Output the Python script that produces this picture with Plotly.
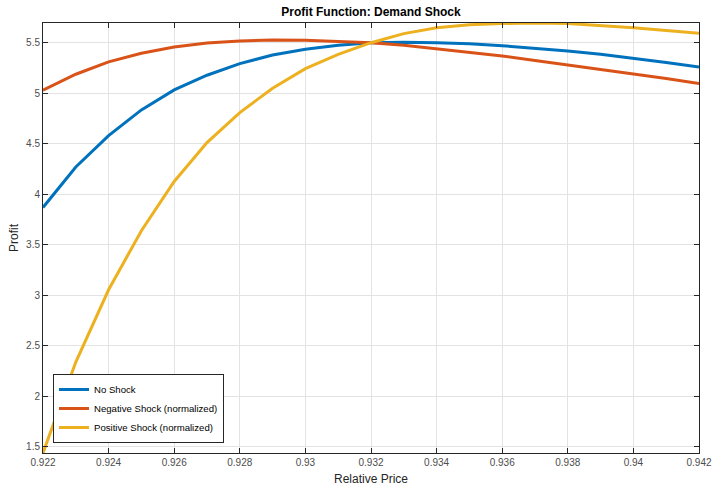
import plotly.graph_objects as go

price = [0.922, 0.923, 0.924, 0.925, 0.926, 0.927, 0.928, 0.929, 0.930, 0.931, 0.932,
         0.933, 0.934, 0.935, 0.936, 0.937, 0.938, 0.939, 0.940, 0.941, 0.942]

no_shock = [3.87, 4.27, 4.58, 4.835, 5.033, 5.178, 5.293, 5.378, 5.435, 5.474, 5.50,
            5.505, 5.50, 5.49, 5.47, 5.445, 5.418, 5.385, 5.346, 5.305, 5.26]

neg_shock = [5.03, 5.188, 5.31, 5.395, 5.458, 5.497, 5.517, 5.527, 5.524, 5.513, 5.50,
             5.475, 5.44, 5.405, 5.368, 5.325, 5.28, 5.237, 5.194, 5.145, 5.095]

pos_shock = [1.44, 2.34, 3.055, 3.64, 4.127, 4.512, 4.809, 5.05, 5.243, 5.385, 5.50,
             5.59, 5.648, 5.678, 5.69, 5.695, 5.69, 5.672, 5.648, 5.622, 5.593]

names = ["No Shock", "Negative Shock (normalized)", "Positive Shock (normalized)"]
colors = ["#0072BD", "#D95319", "#EDB120"]

x_ticks = [0.922, 0.924, 0.926, 0.928, 0.930, 0.932, 0.934, 0.936, 0.938, 0.940, 0.942]
x_tick_labels = ["0.922", "0.924", "0.926", "0.928", "0.93", "0.932", "0.934", "0.936", "0.938", "0.94", "0.942"]
y_ticks = [1.5, 2, 2.5, 3, 3.5, 4, 4.5, 5, 5.5]
y_tick_labels = ["1.5", "2", "2.5", "3", "3.5", "4", "4.5", "5", "5.5"]

FONT = "Liberation Sans, Arial, sans-serif"

fig = go.Figure()
for name, ys, c in zip(names, [no_shock, neg_shock, pos_shock], colors):
    fig.add_trace(go.Scatter(x=price, y=ys, mode="lines", name=name,
                             line=dict(color=c, width=3)))

axis_common = dict(
    showline=True, linecolor="#262626", linewidth=1, mirror="ticks",
    ticks="inside", ticklen=5, tickcolor="#262626",
    showgrid=True, gridcolor="#E3E3E3", gridwidth=1, zeroline=False,
    automargin=False,
    tickfont=dict(family=FONT, size=10, color="#4D4D4D"),
)

fig.update_layout(
    width=713, height=486,
    margin=dict(l=43, r=14, t=23, b=33),
    paper_bgcolor="white", plot_bgcolor="white",
    font=dict(family=FONT, color="#262626"),
    title=dict(text="<b>Profit Function: Demand Shock</b>", x=0.5, xref="paper",
               y=1 - 12 / 486, yref="container", yanchor="middle",
               font=dict(size=12, color="#000000")),
    xaxis=dict(range=[0.922, 0.942], tickvals=x_ticks, ticktext=x_tick_labels,
               title=dict(text="Relative Price", standoff=7,
                          font=dict(size=12, color="#262626")),
               **axis_common),
    yaxis=dict(range=[1.44, 5.695], tickvals=y_ticks, ticktext=y_tick_labels,
               title=dict(text="Profit", standoff=4,
                          font=dict(size=12, color="#262626")),
               **axis_common),
    legend=dict(x=10 / 655, y=10 / 430, xanchor="left", yanchor="bottom",
                bgcolor="white", bordercolor="#262626", borderwidth=1,
                font=dict(size=9.6, color="#000000"), itemwidth=30,
                tracegroupgap=0),
    showlegend=True,
)

fig.write_html("out.html",
               config={"displayModeBar": False},
               post_script="document.body.style.margin='0';document.body.style.overflow='hidden';")
